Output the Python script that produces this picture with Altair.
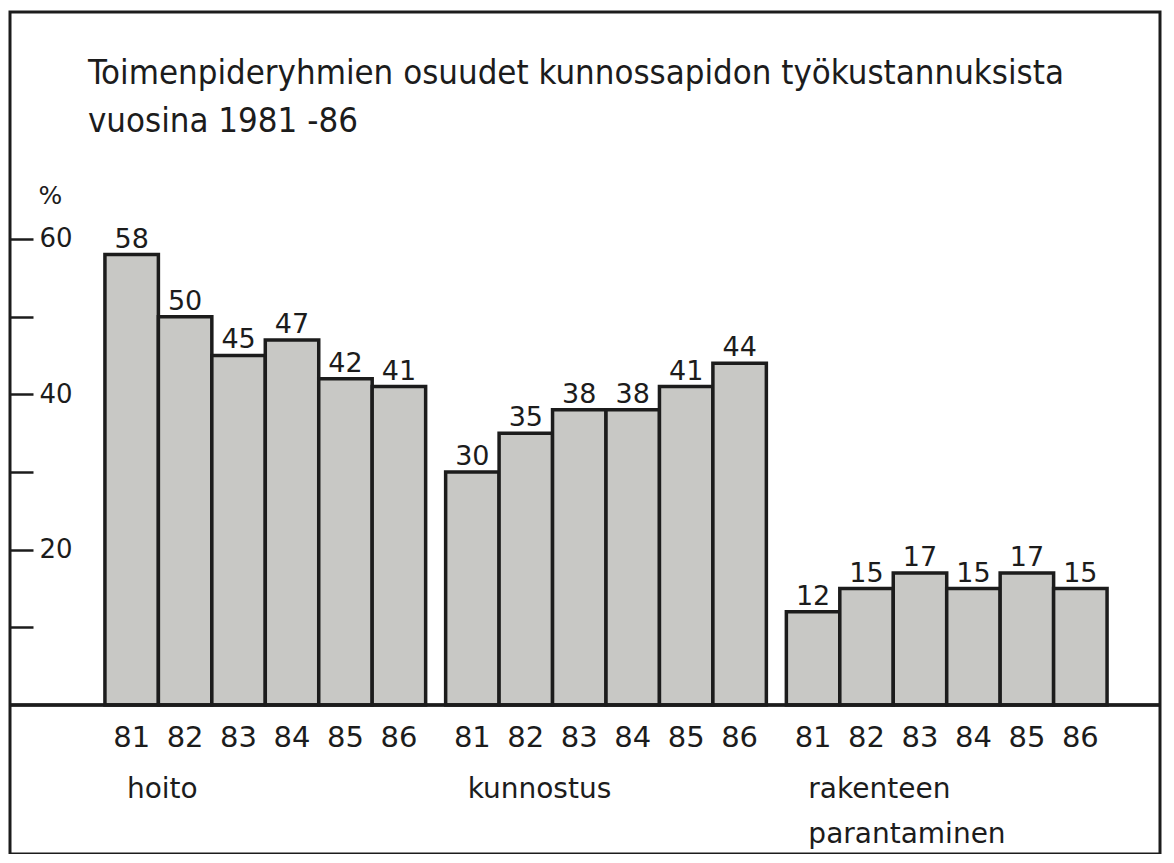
import altair as alt
import pandas as pd

groups = ["hoito", "kunnostus", "rakenteen parantaminen"]
years = ["81", "82", "83", "84", "85", "86"]
hoito = [58, 50, 45, 47, 42, 41]
kunnostus = [30, 35, 38, 38, 41, 44]
rakenteen = [12, 15, 17, 15, 17, 15]
y_ticks = [10, 20, 30, 40, 50, 60]
title_lines = ["Toimenpideryhmien osuudet kunnossapidon työkustannuksista",
               "vuosina 1981 -86"]

rows = []
for g, vals in zip(groups, [hoito, kunnostus, rakenteen]):
    for yr, v in zip(years, vals):
        rows.append({"group": g, "year": yr, "value": v})
df = pd.DataFrame(rows)
gdf = pd.DataFrame({"group": groups})

INK = "#1c1c1c"
FONT = "DejaVu Sans"
W, H = 1150, 842

xenc = alt.X("group:N", sort=groups, axis=None,
             scale=alt.Scale(paddingInner=0.0587, paddingOuter=0.217, align=0.642))
xoff = alt.XOffset("year:N", sort=years, scale=alt.Scale(paddingInner=0, paddingOuter=0))
yscale = alt.Scale(domain=[-19.18, 89.22], nice=False, zero=False)

base = alt.Chart(df)

bars = base.mark_bar(fill="#c8c8c5", stroke=INK, strokeWidth=3.5).encode(
    x=xenc,
    xOffset=xoff,
    y=alt.Y("value:Q", scale=yscale,
            axis=alt.Axis(orient="right", offset=-W, values=y_ticks,
                          labelExpr="datum.value % 20 === 0 ? datum.label : ''",
                          tickSize=23, tickWidth=2.5, tickColor=INK,
                          domain=False, grid=False,
                          labelFont=FONT, labelFontSize=26, labelColor=INK,
                          labelPadding=6, labelBaseline="middle",
                          title="%", titleAngle=0, titleX=28, titleY=191,
                          titleAlign="left", titleBaseline="alphabetic",
                          titleFont=FONT, titleFontSize=25, titleFontWeight="normal",
                          titleColor=INK)),
    y2=alt.datum(0),
)

values = base.mark_text(font=FONT, fontSize=27, color=INK, baseline="alphabetic",
                        dy=-7).encode(
    x=xenc, xOffset=xoff,
    y=alt.Y("value:Q", scale=yscale),
    text="value:Q",
)

baseline = alt.Chart(gdf).mark_rule(color=INK, strokeWidth=3).encode(
    y=alt.datum(0)
)

year_labels = base.mark_text(font=FONT, fontSize=29, color=INK,
                             baseline="alphabetic").encode(
    x=xenc, xOffset=xoff,
    y=alt.value(735),
    text="year:N",
)

group_labels = alt.Chart(gdf).mark_text(font=FONT, fontSize=28, color=INK,
                                        baseline="alphabetic", align="left",
                                        dx=22, lineBreak=" ", lineHeight=45).encode(
    x=alt.X("group:N", sort=groups, bandPosition=0, axis=None,
            scale=alt.Scale(paddingInner=0.0587, paddingOuter=0.217, align=0.642)),
    y=alt.value(786),
    text="group:N",
)

chart = alt.layer(bars, values, baseline, year_labels, group_labels).properties(
    width=W, height=H,
    padding={"left": 2, "top": 4, "right": 6, "bottom": 0},
    autosize=alt.AutoSizeParams(type="none"),
    background="#ffffff",
    title=alt.Title(title_lines, anchor="start", frame="group", orient="top",
                    offset=-154, dx=78, baseline="alphabetic",
                    font="DejaVu Sans Condensed", fontSize=34.5, fontWeight="normal",
                    color=INK, lineHeight=48),
).configure_view(stroke=INK, strokeWidth=3)

chart.save("out.html", embed_options={"renderer": "svg", "actions": False})
